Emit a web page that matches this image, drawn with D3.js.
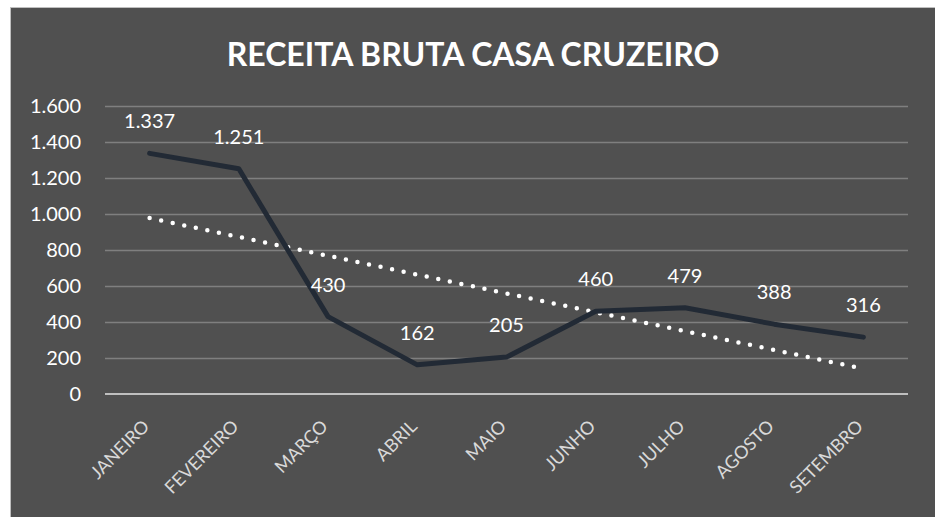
<!DOCTYPE html>
<html>
<head>
<meta charset="utf-8">
<script src="https://cdn.jsdelivr.net/npm/d3@7"></script>
<style>
  body { margin: 0; background: #fff; }
  svg { display: block; }
</style>
</head>
<body>
<div id="chart-area"></div>
<script>
var months = ["JANEIRO", "FEVEREIRO", "MARÇO", "ABRIL", "MAIO", "JUNHO", "JULHO", "AGOSTO", "SETEMBRO"];
var receita = [1337, 1251, 430, 162, 205, 460, 479, 388, 316];
var yTicks = [0, 200, 400, 600, 800, 1000, 1200, 1400, 1600];

var W = 935, H = 517;
var margin = { left: 105, right: 27, top: 106, bottom: 123 };
var width = W - margin.left - margin.right;
var height = H - margin.top - margin.bottom;
var font = "Lato, 'Open Sans', sans-serif";

var fmt = d3.formatLocale({ decimal: ",", thousands: ".", grouping: [3], currency: ["R$", ""] }).format(",d");

var svg = d3.select("#chart-area").append("svg")
    .attr("width", W)
    .attr("height", H);

// chart frame
svg.append("rect")
    .attr("x", 10.5).attr("y", 7.5)
    .attr("width", W - 10).attr("height", H - 7)
    .attr("fill", "#505050")
    .attr("stroke", "#bfbfbf")
    .attr("stroke-width", 1);

svg.append("text")
    .attr("x", 473)
    .attr("y", 66)
    .attr("text-anchor", "middle")
    .attr("fill", "#ffffff")
    .style("font-family", font)
    .style("font-weight", "bold")
    .style("font-size", "32px")
    .text("RECEITA BRUTA CASA CRUZEIRO");

var g = svg.append("g")
    .attr("transform", `translate(${margin.left}, ${margin.top})`);

var x = d3.scaleBand()
    .domain(months)
    .range([0, width]);

var y = d3.scaleLinear()
    .domain([0, 1600])
    .range([height, 0]);

var cx = d => x(d) + x.bandwidth() / 2;

// gridlines
g.append("g").selectAll("line")
    .data(yTicks.filter(d => d > 0))
    .enter().append("line")
    .attr("x1", 0).attr("x2", width)
    .attr("y1", d => Math.round(y(d)) + 0.5)
    .attr("y2", d => Math.round(y(d)) + 0.5)
    .attr("stroke", "#7f7f7f")
    .attr("stroke-width", 1.5);

var yAxis = g.append("g")
    .call(d3.axisLeft(y).tickValues(yTicks).tickFormat(fmt).tickSize(0).tickPadding(24));
yAxis.select(".domain").remove();
yAxis.selectAll("text")
    .attr("fill", "#ffffff")
    .style("font-family", font)
    .style("font-size", "20px");

// baseline
g.append("line")
    .attr("x1", 0).attr("x2", width)
    .attr("y1", y(0)).attr("y2", y(0))
    .attr("stroke", "#bfbfbf")
    .attr("stroke-width", 2);

var xAxis = g.append("g")
    .attr("transform", `translate(0, ${height})`)
    .call(d3.axisBottom(x).tickSize(0));
xAxis.select(".domain").remove();
xAxis.selectAll("text")
    .attr("fill", "#d9d9d9")
    .style("font-family", font)
    .style("font-size", "18px")
    .attr("text-anchor", "end")
    .attr("x", -23)
    .attr("y", 18)
    .attr("dy", "0.35em")
    .attr("transform", "rotate(-45)");

// linear trendline
var xs = months.map((d, i) => i + 1);
var mx = d3.mean(xs), my = d3.mean(receita);
var slope = d3.sum(xs, (v, i) => (v - mx) * (receita[i] - my)) / d3.sum(xs, v => (v - mx) * (v - mx));
var trend = xs.map(v => my + slope * (v - mx));

g.append("path")
    .datum(trend)
    .attr("fill", "none")
    .attr("stroke", "#ffffff")
    .attr("stroke-width", 4.5)
    .attr("stroke-linecap", "round")
    .attr("stroke-dasharray", "0 11.8")
    .attr("d", d3.line().x((d, i) => cx(months[i])).y(d => y(d)));

g.append("path")
    .datum(receita)
    .attr("fill", "none")
    .attr("stroke", "#222a35")
    .attr("stroke-width", 5)
    .attr("stroke-linecap", "round")
    .attr("stroke-linejoin", "round")
    .attr("d", d3.line().x((d, i) => cx(months[i])).y(d => y(d)));

g.append("g").selectAll("text")
    .data(receita)
    .enter().append("text")
    .attr("x", (d, i) => cx(months[i]))
    .attr("y", d => y(d) - 25)
    .attr("text-anchor", "middle")
    .attr("fill", "#ffffff")
    .style("font-family", font)
    .style("font-size", "20px")
    .text(d => fmt(d));
</script>
</body>
</html>
